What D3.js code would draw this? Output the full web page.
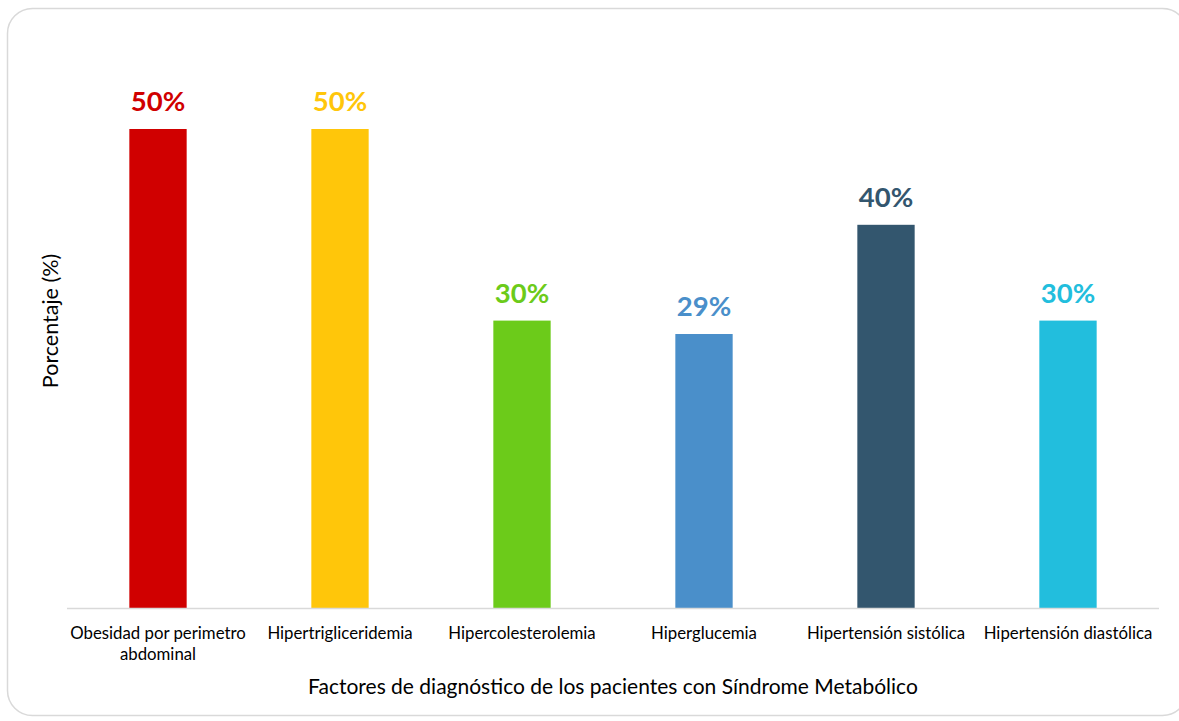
<!DOCTYPE html>
<html><head><meta charset="utf-8">
<script src="https://cdn.jsdelivr.net/npm/d3@7"></script>
<style>body{margin:0;background:#fff;} svg{display:block;}</style>
</head><body>
<svg id="c" width="1179" height="721"></svg>
<script>
const categories = ["Obesidad por perimetro abdominal","Hipertrigliceridemia","Hipercolesterolemia","Hiperglucemia","Hipertensión sistólica","Hipertensión diastólica"];
const values = [50, 50, 30, 28.6, 40, 30];
const valueLabels = ["50%","50%","30%","29%","40%","30%"];
const colors = ["#D00000","#FFC60A","#6CCB1A","#4A8FCA","#33566E","#22BEDD"];
const xTitle = "Factores de diagnóstico de los pacientes con Síndrome Metabólico";
const yTitle = "Porcentaje (%)";

const svg = d3.select("#c");
const font = "Lato, 'Open Sans', sans-serif";

svg.append("rect").attr("x",7.5).attr("y",8.5).attr("width",1180).attr("height",707)
  .attr("rx",25).attr("fill","#fff").attr("stroke","#d9d9d9").attr("stroke-width",1.5);

const x = d3.scaleBand().domain(categories).range([67,1159]).paddingInner(0.685).paddingOuter(0.3425);
const y = d3.scaleLinear().domain([0,50]).range([608,129]);

svg.selectAll("rect.bar").data(categories).join("rect").attr("class","bar")
  .attr("x",d=>x(d)).attr("width",x.bandwidth())
  .attr("y",(d,i)=>y(values[i])).attr("height",(d,i)=>y(0)-y(values[i]))
  .attr("fill",(d,i)=>colors[i]);

svg.append("line").attr("x1",67).attr("x2",1159).attr("y1",608.5).attr("y2",608.5)
  .attr("stroke","#d9d9d9").attr("stroke-width",1.5);

svg.selectAll("text.val").data(categories).join("text").attr("class","val")
  .attr("x",d=>x(d)+x.bandwidth()/2).attr("y",(d,i)=>y(values[i])-18)
  .attr("text-anchor","middle").attr("font-family",font).attr("font-weight","bold")
  .attr("font-size",27.5).attr("fill",(d,i)=>colors[i]).text((d,i)=>valueLabels[i]);

const xAxis = d3.axisBottom(x).tickSize(0).tickPadding(0);
const gx = svg.append("g").attr("transform","translate(0,608)").call(xAxis);
gx.select(".domain").remove();
gx.selectAll("text").attr("font-family",font).attr("font-size",16.8).attr("fill","#000")
  .attr("dy",null).attr("y",31)
  .each(function(d){
    const t = d3.select(this);
    if (d === "Obesidad por perimetro abdominal") {
      t.text(null);
      t.append("tspan").attr("x",0).attr("y",31).text("Obesidad por perimetro");
      t.append("tspan").attr("x",0).attr("y",52).text("abdominal");
    }
  });

svg.append("text").attr("x",613).attr("y",694).attr("text-anchor","middle")
  .attr("font-family",font).attr("font-size",21).attr("fill","#000").text(xTitle);

svg.append("text").attr("transform","translate(58,321) rotate(-90)").attr("text-anchor","middle")
  .attr("font-family",font).attr("font-size",21.5).attr("fill","#000").text(yTitle);
</script>
</body></html>
